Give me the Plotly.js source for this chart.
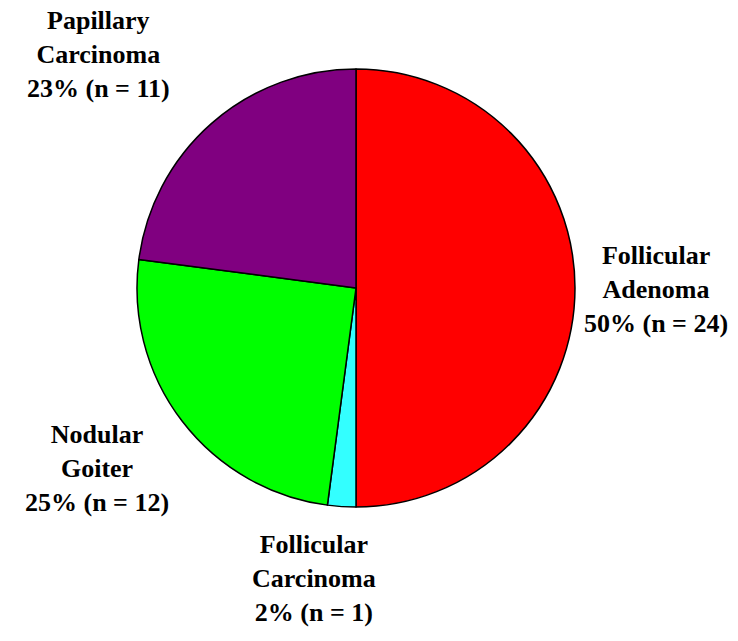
<!DOCTYPE html>
<html>
<head>
<meta charset="utf-8">
<script src="https://cdn.plot.ly/plotly-3.0.1.min.js"></script>
<style>html,body{margin:0;padding:0;background:#fff;}#chart{width:738px;height:641px;}</style>
</head>
<body>
<div id="chart"></div>
<script>
const categories = ["Follicular Adenoma", "Follicular Carcinoma", "Nodular Goiter", "Papillary Carcinoma"];
const counts = [24, 1, 12, 11];
const percentLabels = ["50%", "2%", "25%", "23%"];
const labelLines = [["Follicular", "Adenoma"], ["Follicular", "Carcinoma"], ["Nodular", "Goiter"], ["Papillary", "Carcinoma"]];
const colors = ["#ff0000", "#33ffff", "#00ff00", "#800080"];

const W = 738, H = 641;
// label block centres in pixels (layout)
const labelPos = [[656, 290], [314, 578], [97, 468], [98, 54]];

const cx = 356, cy = 288, r = 219;

const trace = {
  type: "pie",
  labels: categories,
  values: counts,
  sort: false,
  direction: "clockwise",
  rotation: 0,
  marker: {colors: colors, line: {color: "#000", width: 1.5}},
  textinfo: "none",
  hoverinfo: "skip",
  showlegend: false,
  domain: {x: [(cx - r) / W, (cx + r) / W], y: [(H - cy - r) / H, (H - cy + r) / H]}
};

const annotations = categories.map((c, i) => ({
  xref: "paper", yref: "paper",
  x: labelPos[i][0] / W, y: 1 - labelPos[i][1] / H,
  xanchor: "center", yanchor: "middle",
  showarrow: false, align: "center",
  text: "<b>" + labelLines[i].join("<br>") + "<br>" + percentLabels[i] + " (n = " + counts[i] + ")</b>",
  font: {family: "Liberation Serif", size: 26, color: "#000"}
}));

const layout = {
  width: W, height: H,
  margin: {l: 0, r: 0, t: 0, b: 0},
  paper_bgcolor: "#fff", plot_bgcolor: "#fff",
  font: {family: "Liberation Serif"},
  annotations: annotations
};

Plotly.newPlot("chart", [trace], layout, {displayModeBar: false, staticPlot: true});
</script>
</body>
</html>
